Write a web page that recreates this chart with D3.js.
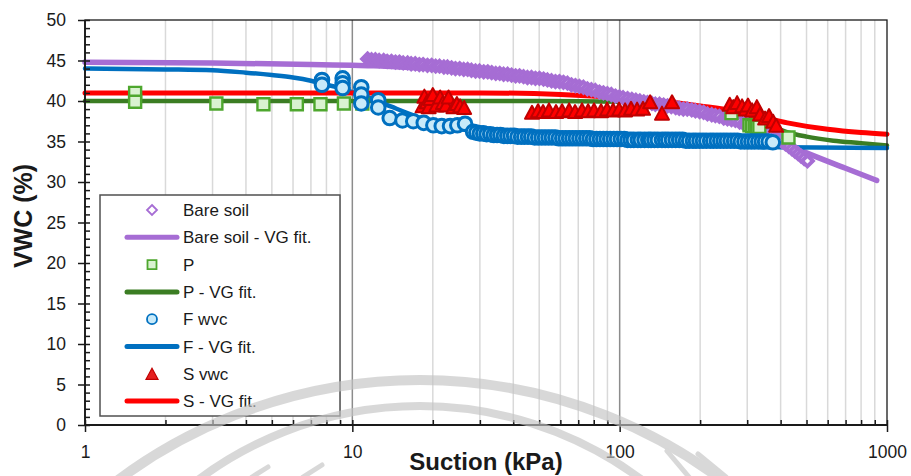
<!DOCTYPE html>
<html>
<head>
<meta charset="utf-8">
<script src="https://cdn.jsdelivr.net/npm/d3@7"></script>
<style>
  body { margin: 0; background: #fff; }
  svg { display: block; }
  text { font-family: "Liberation Sans", Arial, sans-serif; fill: #1a1a1a; }
</style>
</head>
<body>
<svg id="chart" width="911" height="476"></svg>
<script>
// ---- Axis ticks ----
const xTickLabels = [1, 10, 100, 1000];
const yTickLabels = [0, 5, 10, 15, 20, 25, 30, 35, 40, 45, 50];

// ---- Bare soil (measured) ----
const bareSuction = [11.4,11.8,12.2,12.6,13.1,13.5,14.0,14.5,15.0,15.5,
  16.1,16.6,17.2,17.8,18.4,19.1,19.8,20.5,21.2,22.0,
  22.7,23.5,24.3,25.2,26.1,27.0,27.9,28.9,29.9,31.0,
  32.1,33.2,34.4,35.6,36.8,38.1,39.4,40.8,42.2,43.7,
  45.2,46.8,48.4,50.1,51.9,53.7,55.6,57.5,59.5,61.6,
  63.8,66.0,68.3,70.7,73.2,75.7,78.4,81.1,84.0,86.9,
  90.0,93.1,96.4,99.8,103,107,111,115,119,123,
  127,132,136,141,146,151,156,162,167,173,
  179,186,192,199,206,213,221,228,236,245,
  253,262,271,281,291,301,311,322,334,345,
  357,370,382,394,405,417,429,441,453,465,
  477,490,504];
const bareVwc = [45.2,45.1,45.1,45.0,45.0,44.9,44.9,44.8,44.8,44.7,
  44.7,44.6,44.6,44.5,44.5,44.4,44.4,44.3,44.3,44.2,
  44.2,44.1,44.0,44.0,43.9,43.9,43.8,43.7,43.7,43.6,
  43.6,43.5,43.4,43.4,43.3,43.3,43.2,43.1,43.1,43.0,
  42.9,42.9,42.8,42.8,42.7,42.6,42.5,42.4,42.4,42.3,
  42.2,42.0,41.9,41.8,41.7,41.5,41.4,41.3,41.1,41.0,
  40.9,40.8,40.6,40.5,40.4,40.3,40.2,40.1,40.0,39.9,
  39.8,39.7,39.6,39.6,39.5,39.4,39.3,39.2,39.1,39.0,
  39.0,38.9,38.8,38.7,38.6,38.4,38.3,38.2,38.1,37.9,
  37.8,37.7,37.6,37.4,37.2,37.1,36.9,36.7,36.6,36.3,
  36.1,35.9,35.6,35.3,35.0,34.7,34.4,34.1,33.8,33.5,
  33.2,32.9,32.6];
// Bare soil – van Genuchten fit
const bareFitSuction = [1, 3, 7, 10, 12, 15, 20, 30, 40, 50, 70, 100, 150, 200, 265, 300, 400, 500, 700, 915];
const bareFitVwc     = [44.8, 44.7, 44.5, 44.4, 44.35, 44.2, 44.0, 43.6, 43.2, 42.8, 41.9, 40.6, 39.4, 38.6, 37.6, 37.0, 35.0, 33.6, 31.7, 30.2];

// ---- P (measured) ----
const pSuction = [1.54, 1.54, 3.1, 4.65, 6.2, 7.6, 9.3, 10.9, 262, 306, 313, 320, 326, 333, 428];
const pVwc     = [41.0, 39.9, 39.7, 39.6, 39.6, 39.6, 39.7, 39.7, 38.5, 37.0, 36.9, 36.9, 36.8, 36.8, 35.5];
// P – van Genuchten fit
const pFitSuction = [1, 10, 50, 100, 150, 200, 260, 300, 350, 420, 500, 630, 800, 1000];
const pFitVwc     = [40.0, 40.0, 40.0, 39.9, 39.6, 39.2, 38.5, 38.0, 37.3, 36.2, 35.6, 35.1, 34.8, 34.5];

// ---- F (measured) ----
const fSuction = [7.7, 7.7, 9.2, 9.2, 9.2, 10.8, 10.8, 10.8, 12.5, 12.5,
  13.8, 15.4, 16.9, 18.5, 20.1, 21.6, 23.2, 24.7, 26.4,
  28.3,29.1,30.0,30.9,31.8,32.8,33.8,34.8,35.8,36.9,
  38.0,39.1,40.3,41.5,42.8,44.0,45.4,46.7,48.1,49.6,
  51.1,52.6,54.2,55.8,57.5,59.2,61.0,62.8,64.7,66.6,
  68.6,70.7,72.8,75.0,77.2,79.5,81.9,84.4,86.9,89.5,
  92.2,95.0,97.8,101,104,107,110,113,117,120,
  124,128,131,135,139,144,148,152,157,162,
  167,172,177,182,188,193,199,205,211,218,
  224,231,238,245,252,260,268,276,284,293,
  302,311,320,330,340,350,361,374];
const fVwc = [42.6, 42.0, 42.8, 42.2, 41.6, 41.7, 40.8, 39.7, 40.1, 39.2,
  37.9, 37.6, 37.5, 37.3, 37.0, 36.9, 36.9, 37.0, 37.2,
  36.2,36.1,36.0,36.0,35.9,35.9,35.8,35.8,35.8,35.7,
  35.7,35.7,35.7,35.6,35.6,35.6,35.6,35.6,35.5,35.5,
  35.5,35.5,35.5,35.5,35.5,35.4,35.4,35.4,35.4,35.4,
  35.4,35.4,35.4,35.4,35.4,35.3,35.3,35.3,35.3,35.3,
  35.3,35.3,35.3,35.3,35.3,35.2,35.2,35.2,35.2,35.2,
  35.2,35.2,35.2,35.2,35.2,35.2,35.2,35.2,35.2,35.2,
  35.2,35.2,35.1,35.1,35.1,35.1,35.1,35.1,35.1,35.1,
  35.1,35.1,35.1,35.1,35.1,35.1,35.1,35.1,35.0,35.0,
  35.0,35.0,35.0,35.0,35.0,35.0,35.0,34.9];
// F – van Genuchten fit
const fFitSuction = [1, 2, 3, 4, 5, 6, 7, 8, 9, 10, 12, 14, 17, 20, 25, 30, 40, 60, 100, 200, 400, 1000];
const fFitVwc     = [44.0, 43.9, 43.8, 43.5, 43.2, 42.9, 42.5, 42.0, 41.6, 41.1, 40.2, 39.3, 38.2, 37.4, 36.6, 36.1, 35.6, 35.2, 34.9, 34.6, 34.3, 34.2];

// ---- S (measured) ----
const sSuction = [18.3,18.6,19.0,19.3,19.6,20.0,20.6,21.3,21.8,22.4,22.9,23.9,24.6,25.3,26.2,
  47.0,49.5,51.7,54.4,57.8,60.9,64.7,68.1,72.3,76.2,80.2,85.2,89.7,94.5,99.5,104.8,110.3,116.2,122.3,
  130,144,157,
  258,266,275,287,296,302,313,326,335,350,362,375,385];
const sVwc = [39.4,40.6,39.9,39.3,40.3,40.8,39.5,40.5,39.8,39.5,40.5,39.3,39.7,39.4,39.2,
  38.6,38.8,38.7,38.9,38.7,38.8,38.9,38.7,38.9,38.8,38.9,38.8,39.0,38.9,39.0,38.9,39.1,39.0,39.1,
  39.9,38.5,39.9,
  39.6,39.3,39.8,39.4,39.0,39.5,38.9,39.3,38.4,37.9,38.2,37.5,37.0];
// S – van Genuchten fit
const sFitSuction = [1, 30, 60, 100, 130, 163, 200, 265, 350, 424, 600, 800, 1000];
const sFitVwc     = [41.0, 41.0, 40.8, 40.4, 40.1, 39.8, 39.4, 38.8, 37.9, 37.3, 36.5, 36.1, 35.9];

const legendLabels = ["Bare soil", "Bare soil - VG fit.", "P", "P - VG fit.", "F wvc", "F - VG fit.", "S vwc", "S - VG fit."];

// ---- Styles ----
const C = {
  purple: "#a66dd4",
  green: "#3b7d23", greenEdge: "#4ea72e", greenFill: "#d9f2d0",
  blue: "#0070c0", blueFill: "#c8eaf9",
  red: "#ff0000", redEdge: "#c00000"
};

const svg = d3.select("#chart");
const x = d3.scaleLog().domain([1, 1000]).range([85, 887]);
const y = d3.scaleLinear().domain([0, 50]).range([425, 20]);

const zip = (a, b) => a.map((v, i) => [v, b[i]]);

// gridlines on every decade subdivision
const minorX = [];
[1, 10, 100].forEach(dec => { for (let k = 2; k <= 9; k++) minorX.push(dec * k); });
svg.append("g").selectAll("line").data(minorX).join("line")
  .attr("x1", d => x(d)).attr("x2", d => x(d))
  .attr("y1", y(50)).attr("y2", y(0))
  .attr("stroke", "#d9d9d9").attr("stroke-width", 1.5);
svg.append("g").selectAll("line").data([10, 100]).join("line")
  .attr("x1", d => x(d)).attr("x2", d => x(d))
  .attr("y1", y(50)).attr("y2", y(0))
  .attr("stroke", "#8c8c8c").attr("stroke-width", 1.5);

// fitted curves (drawn beneath all markers)
const line = d3.line().x(d => x(d[0])).y(d => y(d[1])).curve(d3.curveMonotoneX);
const fits = [
  [zip(bareFitSuction, bareFitVwc), C.purple, 5.5],
  [zip(pFitSuction, pFitVwc), C.green, 4.5],
  [zip(fFitSuction, fFitVwc), C.blue, 4.5],
  [zip(sFitSuction, sFitVwc), C.red, 5]
];
svg.append("g").selectAll("path").data(fits).join("path")
  .attr("d", d => line(d[0]))
  .attr("fill", "none").attr("stroke", d => d[1]).attr("stroke-width", d => d[2])
  .attr("stroke-linecap", "round").attr("stroke-linejoin", "round");

// marker shapes
const diamond = r => `M0,${-r}L${r},0L0,${r}L${-r},0Z`;
const square = h => `M${-h},${-h}H${h}V${h}H${-h}Z`;
const triangle = (w, h) => `M0,${-h / 2}L${w / 2},${h / 2}L${-w / 2},${h / 2}Z`;

// Bare soil diamonds
svg.append("g").selectAll("path").data(zip(bareSuction, bareVwc)).join("path")
  .attr("d", diamond(5.4))
  .attr("transform", d => `translate(${x(d[0])},${y(d[1])})`)
  .attr("fill", "#fff").attr("stroke", C.purple).attr("stroke-width", 3.9)
  .attr("stroke-linejoin", "miter");

// P squares
svg.append("g").selectAll("path").data(zip(pSuction, pVwc)).join("path")
  .attr("d", square(6))
  .attr("transform", d => `translate(${x(d[0])},${y(d[1])})`)
  .attr("fill", C.greenFill).attr("stroke", C.greenEdge).attr("stroke-width", 2.4);

// F circles
svg.append("g").selectAll("circle").data(zip(fSuction, fVwc)).join("circle")
  .attr("cx", d => x(d[0])).attr("cy", d => y(d[1])).attr("r", 6.8)
  .attr("fill", C.blueFill).attr("stroke", C.blue).attr("stroke-width", 3);

// S triangles
svg.append("g").selectAll("path").data(zip(sSuction, sVwc)).join("path")
  .attr("d", triangle(14, 13))
  .attr("transform", d => `translate(${x(d[0])},${y(d[1])})`)
  .attr("fill", C.red).attr("stroke", C.redEdge).attr("stroke-width", 2)
  .attr("stroke-linejoin", "round");

// plot frame
svg.append("rect").attr("x", 85).attr("y", 20).attr("width", 802).attr("height", 405)
  .attr("fill", "none").attr("stroke", "#1a1a1a").attr("stroke-width", 1.3);

// y axis: labelled major ticks outside, unit ticks inside
const yAxis = svg.append("g").attr("transform", "translate(85,0)")
  .call(d3.axisLeft(y).tickValues(yTickLabels).tickSizeInner(7).tickSizeOuter(0).tickPadding(12));
const yInner = svg.append("g").attr("transform", "translate(85,0)")
  .call(d3.axisRight(y).tickValues(d3.range(0, 51)).tickSize(5).tickFormat(""));
// x axis
const xAxis = svg.append("g").attr("transform", "translate(0,425)")
  .call(d3.axisBottom(x).tickValues(xTickLabels).tickSizeInner(7).tickSizeOuter(0)
    .tickPadding(14).tickFormat(d3.format("d")));
const xInner = svg.append("g").attr("transform", "translate(0,425)")
  .call(d3.axisTop(x).tickValues(minorX.concat(xTickLabels)).tickSize(5).tickFormat(""));
[yAxis, yInner, xAxis, xInner].forEach(g => {
  g.select(".domain").remove();
  g.selectAll(".tick line").attr("stroke", "#1a1a1a").attr("stroke-width", 1.5);
  g.selectAll("text").attr("font-size", 17.5).attr("fill", "#1a1a1a")
    .attr("font-family", '"Liberation Sans", Arial, sans-serif');
});
svg.append("line").attr("x1", 85).attr("x2", 85).attr("y1", 20).attr("y2", 426)
  .attr("stroke", "#1a1a1a").attr("stroke-width", 1.8);
svg.append("line").attr("x1", 84).attr("x2", 887).attr("y1", 425).attr("y2", 425)
  .attr("stroke", "#1a1a1a").attr("stroke-width", 2);

// axis titles
svg.append("text").attr("x", 486).attr("y", 470).attr("text-anchor", "middle")
  .attr("font-size", 24).attr("font-weight", "bold").text("Suction (kPa)");
svg.append("text").attr("transform", "translate(32,216) rotate(-90)").attr("text-anchor", "middle")
  .attr("font-size", 25).attr("font-weight", "bold").text("VWC (%)");

// legend
const lg = svg.append("g");
lg.append("rect").attr("x", 100).attr("y", 195).attr("width", 240).attr("height", 221)
  .attr("fill", "#fff").attr("stroke", "#505050").attr("stroke-width", 1.5);
const rows = lg.selectAll("g.row").data(legendLabels).join("g")
  .attr("transform", (d, i) => `translate(0,${210 + i * 27.3})`);
rows.append("text").attr("x", 183).attr("dy", "0.36em").attr("font-size", 17).text(d => d);
const legendLine = (i, col) => lg.append("line").attr("x1", 127).attr("x2", 177)
  .attr("y1", 210 + i * 27.3).attr("y2", 210 + i * 27.3)
  .attr("stroke", col).attr("stroke-width", 5).attr("stroke-linecap", "round");
legendLine(1, C.purple); legendLine(3, C.green); legendLine(5, C.blue); legendLine(7, C.red);
lg.append("path").attr("d", diamond(5)).attr("transform", `translate(152,${210})`)
  .attr("fill", "#fff").attr("stroke", C.purple).attr("stroke-width", 1.8);
lg.append("path").attr("d", square(4.5)).attr("transform", `translate(152,${210 + 2 * 27.3})`)
  .attr("fill", C.greenFill).attr("stroke", C.greenEdge).attr("stroke-width", 1.8);
lg.append("circle").attr("cx", 152).attr("cy", 210 + 4 * 27.3).attr("r", 5)
  .attr("fill", C.blueFill).attr("stroke", C.blue).attr("stroke-width", 1.8);
lg.append("path").attr("d", triangle(12, 11)).attr("transform", `translate(152,${210 + 6 * 27.3})`)
  .attr("fill", "#e52020").attr("stroke", "#c00000").attr("stroke-width", 1.2);

// emblem watermark: two rings and a few laurel strokes
const wm = svg.append("g").attr("fill", "none").attr("stroke", "#c4c4c4").attr("opacity", 0.65);
wm.append("circle").attr("cx", 420).attr("cy", 885).attr("r", 505).attr("stroke-width", 10);
wm.append("circle").attr("cx", 420).attr("cy", 776).attr("r", 370).attr("stroke-width", 8);
const leaves = [[252, 477, 268, 467], [303, 477, 322, 465], [667, 451, 689, 477], [698, 454, 726, 477]];
wm.selectAll("line").data(leaves).join("line")
  .attr("x1", d => d[0]).attr("y1", d => d[1]).attr("x2", d => d[2]).attr("y2", d => d[3])
  .attr("stroke-width", 5).attr("stroke-linecap", "round");
</script>
</body>
</html>
